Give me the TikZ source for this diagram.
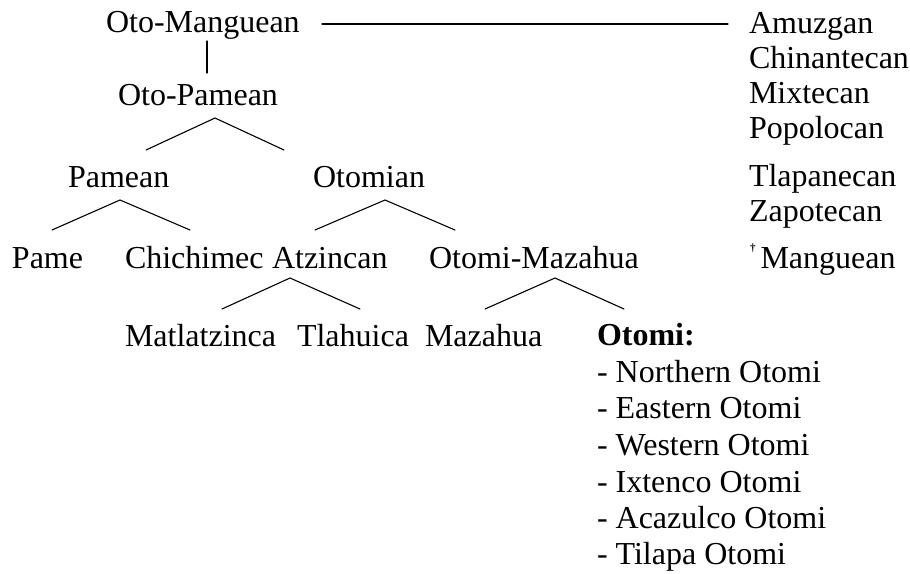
\documentclass[tikz,border=0pt]{standalone}
\usepackage{fontspec}
\setmainfont{Liberation Serif}
\begin{document}
\begin{tikzpicture}[x=1pt,y=-1pt,
  lbl/.style={anchor=base west,inner sep=0pt,outer sep=0pt,font=\fontsize{32}{36}\selectfont},
  br/.style={line width=1.1pt,line cap=round}]
\useasboundingbox (0,0) rectangle (910,573);
% tree labels
\node[lbl] (om) at (106,32) {Oto-Manguean};
\node[lbl] (op) at (118,105) {Oto-Pamean};
\node[lbl] (pam) at (68,187) {Pamean};
\node[lbl] (oto) at (313,187) {Otomian};
\node[lbl] (pame) at (12,268) {Pame};
\node[lbl] (chi) at (125,268) {Chichimec};
\node[lbl] (atz) at (272,268) {Atzincan};
\node[lbl] (omz) at (429,268) {Otomi-Mazahua};
\node[lbl] (mat) at (125,346) {Matlatzinca};
\node[lbl] (tla) at (297,346) {Tlahuica};
\node[lbl] (maz) at (425,346) {Mazahua};
\node[lbl] (otomi) at (597,345) {\textbf{Otomi:}};
\node[lbl] (l1) at (597,382) {- Northern Otomi};
\node[lbl] (l2) at (597,418) {- Eastern Otomi};
\node[lbl] (l3) at (597,455) {- Western Otomi};
\node[lbl] (l4) at (597,492) {- Ixtenco Otomi};
\node[lbl] (l5) at (597,528) {- Acazulco Otomi};
\node[lbl] (l6) at (597,564) {- Tilapa Otomi};
% right column
\node[lbl] (r1) at (749,33) {Amuzgan};
\node[lbl] (r2) at (749,68) {Chinantecan};
\node[lbl] (r3) at (749,103) {Mixtecan};
\node[lbl] (r4) at (749,138) {Popolocan};
\node[lbl] (r5) at (749,186) {Tlapanecan};
\node[lbl] (r6) at (749,221) {Zapotecan};
\node[lbl] (r7) at (750,268) {\raisebox{17pt}{\fontsize{11}{11}\selectfont\bfseries †}\kern5pt Manguean};
% connector points
\coordinate (hA) at (322,24);
\coordinate (hB) at (728,24);
\coordinate (vA) at (207,41);
\coordinate (vB) at (207,73);
\coordinate (opA) at (215,118);
\coordinate (opL) at (146,150);
\coordinate (opR) at (284,150);
\coordinate (pA) at (120,200);
\coordinate (pL) at (52,230);
\coordinate (pR) at (190,230);
\coordinate (oA) at (385,200);
\coordinate (oL) at (315,230);
\coordinate (oR) at (455,230);
\coordinate (aA) at (290,278);
\coordinate (aL) at (222,309);
\coordinate (aR) at (360,309);
\coordinate (mA) at (555,278);
\coordinate (mL) at (485,309);
\coordinate (mR) at (624,309);
\draw[br] (hA) -- (hB);
\draw[br] (vA) -- (vB);
\draw[br] (opL) -- (opA) -- (opR);
\draw[br] (pL) -- (pA) -- (pR);
\draw[br] (oL) -- (oA) -- (oR);
\draw[br] (aL) -- (aA) -- (aR);
\draw[br] (mL) -- (mA) -- (mR);
\end{tikzpicture}
\end{document}
